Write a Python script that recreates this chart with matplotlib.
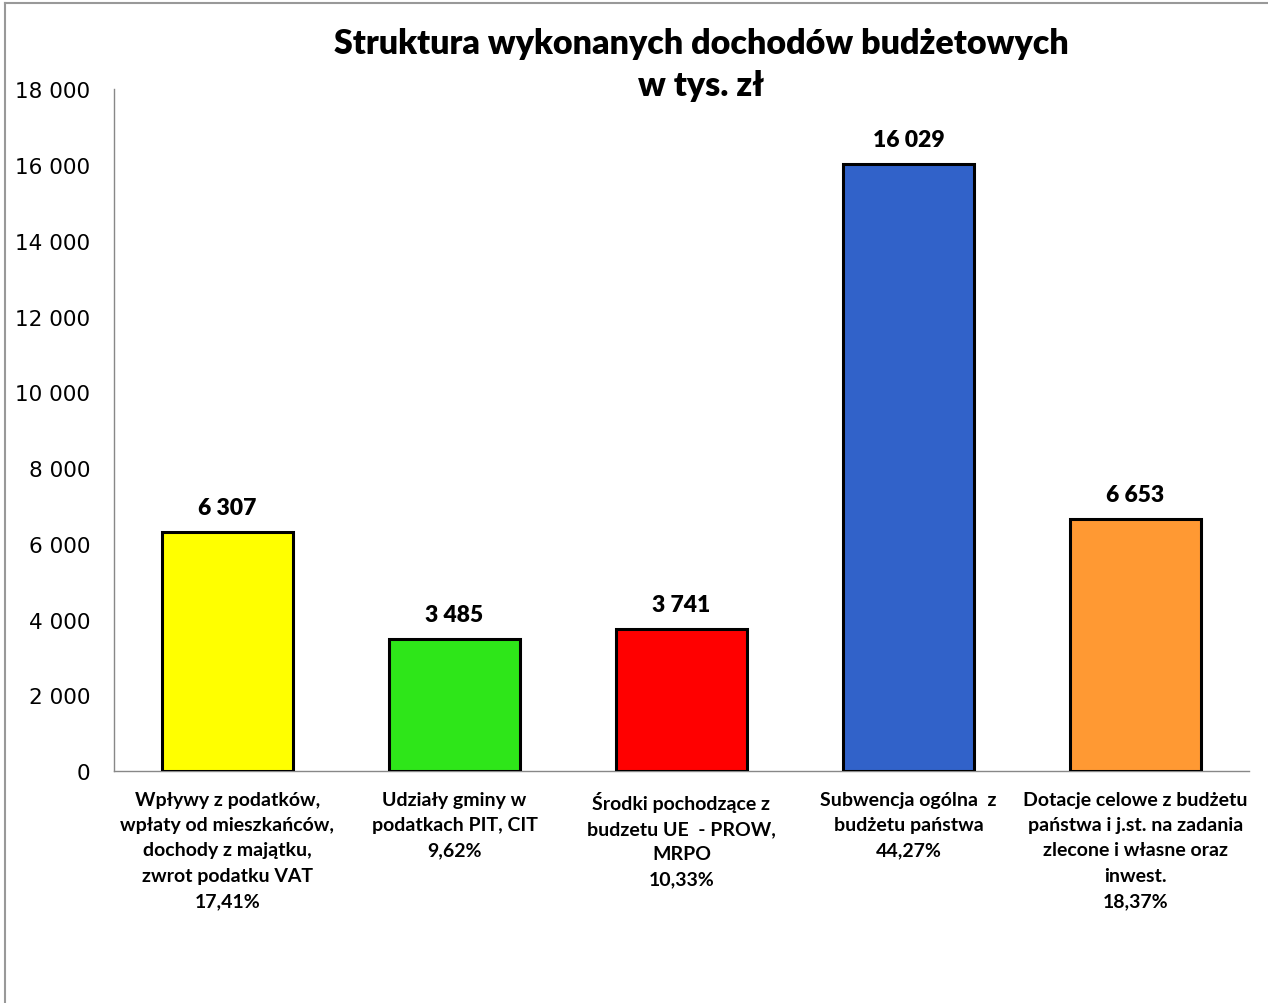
import matplotlib.pyplot as plt
from matplotlib.lines import Line2D

categories = ['Wpływy z podatków,\nwpłaty od mieszkańców,\ndochody z majątku,\nzwrot podatku VAT\n17,41%',
              'Udziały gminy w\npodatkach PIT, CIT\n9,62%',
              'Środki pochodzące z\nbudzetu UE  - PROW,\nMRPO\n10,33%',
              'Subwencja ogólna  z\nbudżetu państwa\n44,27%',
              'Dotacje celowe z budżetu\npaństwa i j.st. na zadania\nzlecone i własne oraz\ninwest.\n18,37%']
values = [6307, 3485, 3741, 16029, 6653]
colors = ['#FFFF00', '#2EE619', '#FF0000', '#3162C9', '#FF9933']
yticks = [0, 2000, 4000, 6000, 8000, 10000, 12000, 14000, 16000, 18000]

def fmt(v):
    return '{:,}'.format(v).replace(',', ' ')

fig = plt.figure(figsize=(12.68, 10.04), dpi=100)
ax = fig.add_axes([0.0899, 0.231, 0.895, 0.679])

x = list(range(len(values)))
ax.bar(x, values, width=0.575, color=colors, edgecolor='black', linewidth=2.2, zorder=3)
for i, v in enumerate(values):
    ax.text(i, v + 380, fmt(v), ha='center', va='bottom', fontsize=16.5,
            fontweight='heavy', family='Lato')

ax.set_xlim(-0.5, len(values) - 0.5)
ax.set_ylim(0, 18000)
ax.set_yticks(yticks)
ax.set_yticklabels([fmt(t) for t in yticks], fontsize=15.5, family='DejaVu Sans')
ax.set_xticks(x)
ax.set_xticklabels(categories, fontsize=14, fontweight='bold', family='Lato',
                   linespacing=1.6, va='top')
ax.tick_params(axis='x', length=0, pad=14)
ax.tick_params(axis='y', length=0, pad=17)
for s in ['top', 'right']:
    ax.spines[s].set_visible(False)
for s in ['left', 'bottom']:
    ax.spines[s].set_color('#888888')
    ax.spines[s].set_linewidth(1.0)

fig.text(0.553, 0.935, 'Struktura wykonanych dochodów budżetowych\nw tys. zł', ha='center',
         va='center', fontsize=24.5, fontweight='heavy', family='Lato', linespacing=1.4)

fig.add_artist(Line2D([0.004, 0.004], [0, 0.996], color='#999999', linewidth=1.5))
fig.add_artist(Line2D([0.004, 1.0], [0.996, 0.996], color='#999999', linewidth=1.5))

fig.savefig('out.png', dpi=100)
